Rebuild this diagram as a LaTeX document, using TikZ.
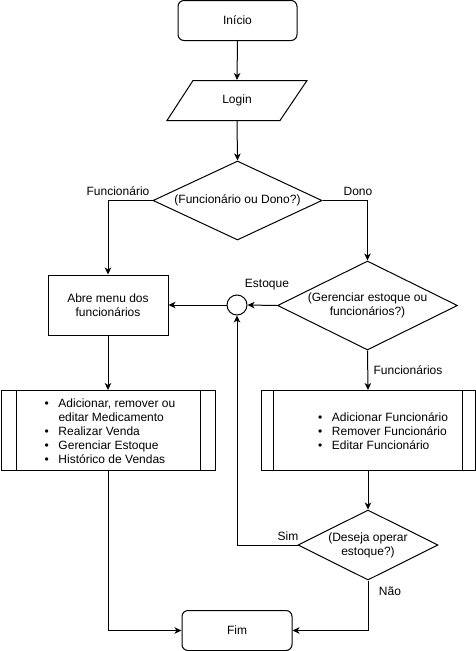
\documentclass[tikz,border=0pt]{standalone}
\usepackage{fontspec}
\setmainfont{Liberation Sans}
\usetikzlibrary{shapes.geometric,arrows.meta}
\newcommand\itm{\makebox[14pt][l]{\textbullet}}
\newcommand\cnt{\hspace*{14pt}}
\begin{document}
\begin{tikzpicture}[x=1pt,y=-1pt,
  every node/.style={font=\fontsize{12}{14}\selectfont},
  line width=1pt,
  arr/.style={-{Stealth[length=7pt,width=6.5pt,inset=2pt]}},
  term/.style={draw,rectangle,rounded corners=6pt,minimum width=119pt,minimum height=40pt,inner sep=0pt},
  proc/.style={draw,rectangle,minimum width=120pt,minimum height=60pt,inner sep=0pt,align=center},
  dec/.style={draw,diamond,inner sep=0pt,align=center},
  sub/.style={draw,rectangle,minimum width=214pt,minimum height=80pt,inner sep=0pt},
  lbl/.style={inner sep=0pt},
  lst/.style={inner sep=0pt,align=left,anchor=west}]
\useasboundingbox (0,0) rectangle (476,651);

\node[term] (inicio) at (237.5,20.5) {Início};
\node[minimum width=113pt,minimum height=40pt,inner sep=0pt] (login) at (237,100.5) {Login};
\draw (167,120.5) -- (193,80.5) -- (307,80.5) -- (280,120.5) -- cycle;
\node[dec,minimum width=169pt,minimum height=79pt,shape aspect=2.14] (d1) at (237.5,200.5) {(Funcionário ou Dono?)};
\node[dec,minimum width=180pt,minimum height=89pt,shape aspect=2.02] (d2) at (367.5,305.5) {(Gerenciar estoque ou\\funcionários?)};
\node[draw,circle,minimum size=20pt,inner sep=0pt] (circ) at (237,305) {};
\node[proc] (abre) at (108,305) {Abre menu dos\\funcionários};

\node[sub] (lbox) at (108,430.5) {};
\draw ([xshift=15.5pt]lbox.north west) -- ([xshift=15.5pt]lbox.south west);
\draw ([xshift=-15.5pt]lbox.north east) -- ([xshift=-15.5pt]lbox.south east);
\node[lst] (lst1) at (44,431) {\itm Adicionar, remover ou\\\cnt editar Medicamento\\\itm Realizar Venda\\\itm Gerenciar Estoque\\\itm Histórico de Vendas};

\node[sub] (rbox) at (368,430.5) {};
\draw ([xshift=13pt]rbox.north west) -- ([xshift=13pt]rbox.south west);
\draw ([xshift=-13pt]rbox.north east) -- ([xshift=-13pt]rbox.south east);
\node[lst] (lst2) at (317.5,431) {\itm Adicionar Funcionário\\\itm Remover Funcionário\\\itm Editar Funcionário};

\node[dec,minimum width=140pt,minimum height=70pt,shape aspect=2] (d3) at (368,545) {(Deseja operar\\estoque?)};
\node[term,minimum width=110pt] (fim) at (237,630.5) {Fim};

\draw[arr] (inicio.south) -- (login.north);
\draw[arr] (login.south) -- (d1.north);
\draw[arr] (d1.west) -| (abre.north);
\draw[arr] (d1.east) -| (d2.north);
\draw[arr] (d2.west) -- (circ.east);
\draw[arr] (circ.west) -- (abre.east);
\draw[arr] (abre.south) -- (lbox.north);
\draw[arr] (d2.south) -- (rbox.north);
\draw[arr] (rbox.south) -- (d3.north);
\draw[arr] (d3.west) -| (circ.south);
\draw[arr] (d3.south) |- (fim.east);
\draw[arr] (lbox.south) |- (fim.west);

\node[lbl] (lF) at (118,191) {Funcionário};
\node[lbl] (lD) at (358,191) {Dono};
\node[lbl] (lE) at (267,285) {Estoque};
\node[lbl] (lFs) at (408,370) {Funcionários};
\node[lbl] (lS) at (288,536) {Sim};
\node[lbl] (lN) at (390,591) {Não};
\end{tikzpicture}
\end{document}
